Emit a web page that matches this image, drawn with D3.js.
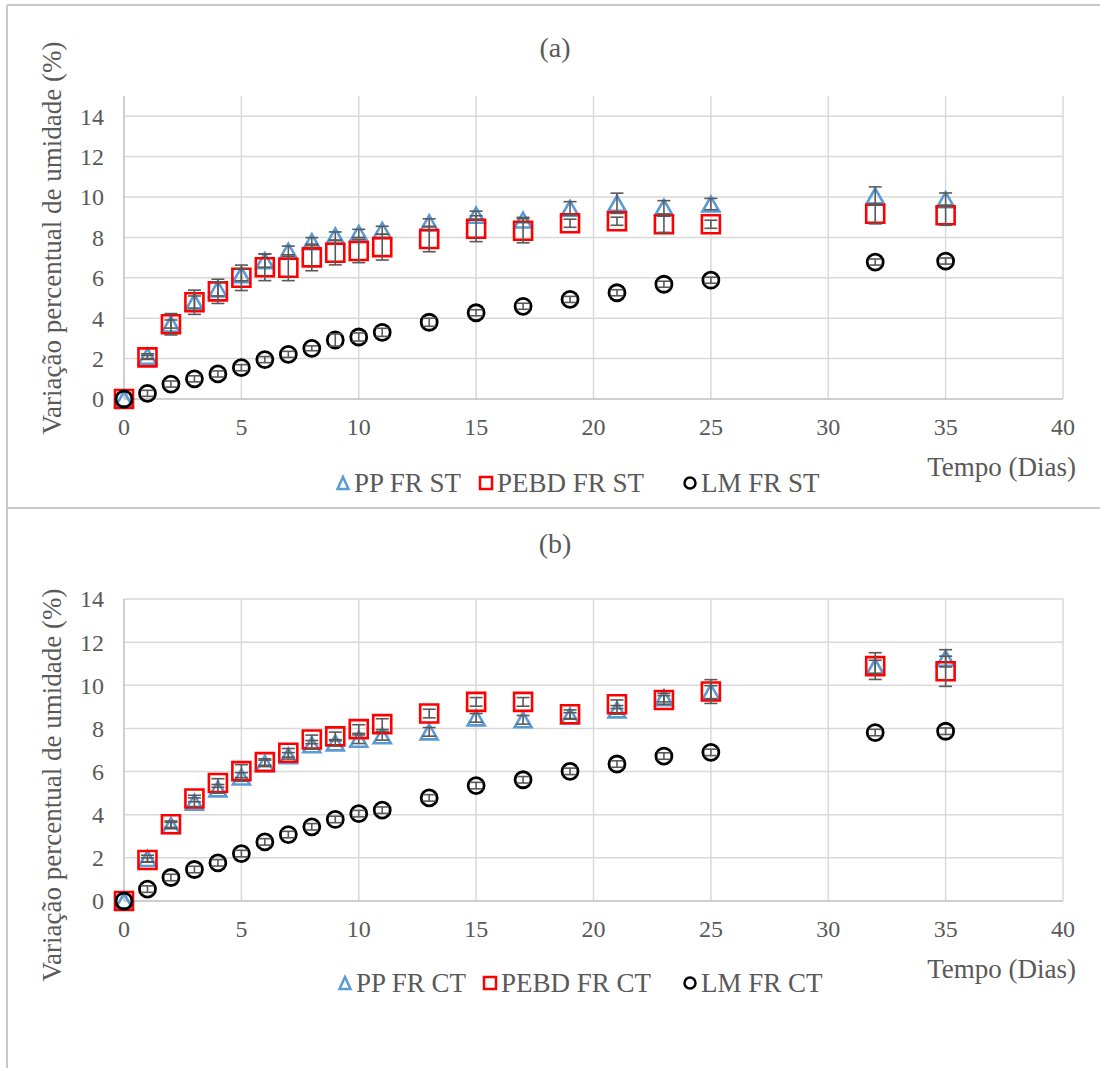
<!DOCTYPE html>
<html>
<head>
<meta charset="utf-8">
<script src="https://cdn.jsdelivr.net/npm/d3@7/dist/d3.min.js"></script>
<style>
  html, body { margin: 0; padding: 0; background: #fff; }
  svg { display: block; }
  text { font-family: "Liberation Serif", "Times New Roman", serif; fill: #595959; }
</style>
</head>
<body>
<svg id="chart" width="1100" height="1068"></svg>
<script>
// Sampling days (x values shared by all series)
const days = [0, 1, 2, 3, 4, 5, 6, 7, 8, 9, 10, 11, 13, 15, 17, 19, 21, 23, 25, 32, 35];

// Panel (a) – sem tratamento (ST)
const ppST      = [0, 2.12, 3.71, 4.80, 5.45, 6.15, 6.85, 7.32, 7.79, 8.07, 8.20, 8.35, 8.72, 9.10, 8.86, 9.44, 9.69, 9.49, 9.65, 10.05, 9.87];
const ppSTErr   = [0, 0.12, 0.20, 0.30, 0.35, 0.30, 0.33, 0.25, 0.20, 0.20, 0.20, 0.20, 0.20, 0.20, 0.13, 0.33, 0.50, 0.33, 0.28, 0.45, 0.33];
const pebdST    = [0, 2.06, 3.70, 4.79, 5.33, 6.00, 6.52, 6.50, 7.01, 7.24, 7.33, 7.52, 7.92, 8.43, 8.33, 8.70, 8.80, 8.65, 8.65, 9.17, 9.10];
const pebdSTErr = [0, 0.10, 0.53, 0.60, 0.60, 0.63, 0.66, 0.64, 0.66, 0.60, 0.58, 0.64, 0.63, 0.64, 0.60, 0.20, 0.20, 0.40, 0.20, 0.50, 0.50];
const lmST      = [0, 0.28, 0.74, 1.00, 1.24, 1.55, 1.95, 2.21, 2.51, 2.92, 3.07, 3.30, 3.80, 4.27, 4.59, 4.93, 5.26, 5.68, 5.88, 6.78, 6.83];
const lmSTErr   = [0, 0.15, 0.15, 0.15, 0.15, 0.15, 0.15, 0.15, 0.12, 0.30, 0.20, 0.20, 0.20, 0.15, 0.15, 0.15, 0.15, 0.15, 0.15, 0.15, 0.15];

// Panel (b) – com tratamento (CT)
const ppCT      = [0, 1.97, 3.50, 4.58, 5.20, 5.75, 6.38, 6.73, 7.24, 7.33, 7.50, 7.66, 7.84, 8.49, 8.40, 8.58, 8.86, 9.43, 9.68, 10.86, 11.25];
const ppCTErr   = [0, 0.15, 0.15, 0.20, 0.20, 0.20, 0.15, 0.15, 0.20, 0.15, 0.20, 0.20, 0.20, 0.20, 0.20, 0.15, 0.20, 0.20, 0.30, 0.30, 0.40];
const pebdCT    = [0, 1.90, 3.56, 4.75, 5.47, 6.02, 6.44, 6.87, 7.49, 7.63, 7.97, 8.20, 8.69, 9.23, 9.23, 8.66, 9.12, 9.32, 9.71, 10.89, 10.65];
const pebdCTErr = [0, 0.10, 0.15, 0.15, 0.20, 0.30, 0.15, 0.20, 0.20, 0.20, 0.20, 0.25, 0.20, 0.20, 0.20, 0.20, 0.20, 0.20, 0.55, 0.62, 0.70];
const lmCT      = [0, 0.55, 1.09, 1.46, 1.77, 2.20, 2.74, 3.08, 3.44, 3.78, 4.05, 4.21, 4.78, 5.35, 5.62, 6.01, 6.35, 6.72, 6.89, 7.81, 7.87];
const lmCTErr   = [0, 0.15, 0.15, 0.15, 0.15, 0.15, 0.15, 0.15, 0.15, 0.15, 0.15, 0.15, 0.15, 0.15, 0.15, 0.15, 0.15, 0.15, 0.15, 0.15, 0.15];

// Axis ticks and labels
const xTicks = [0, 5, 10, 15, 20, 25, 30, 35, 40];
const yTicks = [0, 2, 4, 6, 8, 10, 12, 14];
const yTitle = "Variação percentual de umidade (%)";
const xTitle = "Tempo (Dias)";
const seriesNamesST = ["PP FR ST", "PEBD FR ST", "LM FR ST"];
const seriesNamesCT = ["PP FR CT", "PEBD FR CT", "LM FR CT"];

const svg = d3.select("#chart");
const GRID = "#d9d9d9", AXIS = "#bfbfbf", FRAME = "#c8c8c8", ERR = "#595959";
const BLUE = "#5b9bd5", RED = "#ff0000", BLACK = "#000000";

// Outer frames of the two chart objects
svg.append("line").attr("x1", 7).attr("x2", 1100).attr("y1", 5).attr("y2", 5).attr("stroke", FRAME).attr("stroke-width", 2);
svg.append("line").attr("x1", 7).attr("x2", 7).attr("y1", 5).attr("y2", 1068).attr("stroke", FRAME).attr("stroke-width", 2);
svg.append("line").attr("x1", 7).attr("x2", 1100).attr("y1", 508).attr("y2", 508).attr("stroke", FRAME).attr("stroke-width", 2);

// Marker paths centred on (0,0)
function triPath(w, h) { return `M0,${-h/2}L${w/2},${h/2}L${-w/2},${h/2}Z`; }
function sqPath(s) { return `M${-s/2},${-s/2}h${s}v${s}h${-s}Z`; }
function circPath(r) { return `M${r},0A${r},${r} 0 1,1 ${-r},0A${r},${r} 0 1,1 ${r},0Z`; }

function drawPanel(cfg) {
  const g = svg.append("g");
  const x = d3.scaleLinear().domain([0, 40]).range([124, 1063]);
  const y = d3.scaleLinear().domain([0, cfg.yMax]).range([cfg.y0, cfg.yTop]);

  // horizontal gridlines
  g.append("g").selectAll("line").data(yTicks.filter(d => d > 0)).join("line")
    .attr("x1", x(0)).attr("x2", x(40)).attr("y1", d => y(d)).attr("y2", d => y(d))
    .attr("stroke", GRID).attr("stroke-width", 1.5);
  // vertical gridlines
  g.append("g").selectAll("line").data(xTicks.filter(d => d > 0)).join("line")
    .attr("x1", d => x(d)).attr("x2", d => x(d)).attr("y1", y(0)).attr("y2", y(cfg.yMax))
    .attr("stroke", GRID).attr("stroke-width", 1.5);
  // axis lines
  g.append("line").attr("x1", x(0)).attr("x2", x(40)).attr("y1", y(0)).attr("y2", y(0)).attr("stroke", AXIS).attr("stroke-width", 1.5);
  g.append("line").attr("x1", x(0)).attr("x2", x(0)).attr("y1", y(0)).attr("y2", y(cfg.yMax)).attr("stroke", AXIS).attr("stroke-width", 1.5);

  // tick labels
  g.append("g").selectAll("text").data(yTicks).join("text")
    .attr("x", 104).attr("y", d => y(d)).attr("dy", "0.35em")
    .attr("text-anchor", "end").attr("font-size", 24).text(d => d);
  g.append("g").selectAll("text").data(xTicks).join("text")
    .attr("x", d => x(d)).attr("y", y(0) + 28).attr("dy", "0.35em")
    .attr("text-anchor", "middle").attr("font-size", 24).text(d => d);

  // titles
  g.append("text").attr("x", 555).attr("y", cfg.titleY).attr("dy", "0.35em")
    .attr("text-anchor", "middle").attr("font-size", 28).text(cfg.title);
  g.append("text").attr("transform", `translate(52,${cfg.yTitleY}) rotate(-90)`)
    .attr("text-anchor", "middle").attr("dy", "0.35em").attr("font-size", 27).text(yTitle);
  g.append("text").attr("x", 1076).attr("y", y(0) + 68).attr("dy", "0.35em")
    .attr("text-anchor", "end").attr("font-size", 27).text(xTitle);

  const series = cfg.series;
  // markers (no fill)
  series.forEach(s => {
    g.append("g").selectAll("path").data(days.map((d, i) => [d, s.values[i]])).join("path")
      .attr("transform", d => `translate(${x(d[0])},${y(d[1])})`)
      .attr("d", s.shape).attr("fill", "none").attr("stroke", s.color).attr("stroke-width", s.sw);
  });
  // error bars on top
  series.forEach(s => {
    const eg = g.append("g").attr("stroke", ERR).attr("stroke-width", 1.6);
    days.forEach((d, i) => {
      const e = s.err[i];
      if (!e) return;
      const cx = x(d), hi = y(s.values[i] + e), lo = y(s.values[i] - e);
      eg.append("line").attr("x1", cx).attr("x2", cx).attr("y1", hi).attr("y2", lo);
      eg.append("line").attr("x1", cx - 6.5).attr("x2", cx + 6.5).attr("y1", hi).attr("y2", hi);
      eg.append("line").attr("x1", cx - 6.5).attr("x2", cx + 6.5).attr("y1", lo).attr("y2", lo);
    });
  });

  // legend
  const lg = g.append("g");
  cfg.legend.forEach((item, i) => {
    const s = series[i];
    lg.append("path").attr("transform", `translate(${item.mx},${cfg.legendY})`)
      .attr("d", s.legendShape).attr("fill", "none").attr("stroke", s.color).attr("stroke-width", 2.5);
    lg.append("text").attr("x", item.mx + 11).attr("y", cfg.legendY).attr("dy", "0.35em")
      .attr("font-size", 27).text(item.name);
  });
}

const shapes = {
  tri: triPath(17, 15), sq: sqPath(18), circ: circPath(8),
  triL: triPath(11, 12), sqL: sqPath(12), circL: circPath(5.5)
};

drawPanel({
  title: "(a)", titleY: 47, yMax: 15, y0: 399, yTop: 96, yTitleY: 238,
  legendY: 483,
  series: [
    { values: ppST, err: ppSTErr, shape: shapes.tri, legendShape: shapes.triL, color: BLUE, sw: 2.6 },
    { values: pebdST, err: pebdSTErr, shape: shapes.sq, legendShape: shapes.sqL, color: RED, sw: 2.6 },
    { values: lmST, err: lmSTErr, shape: shapes.circ, legendShape: shapes.circL, color: BLACK, sw: 2.8 }
  ],
  legend: [
    { name: seriesNamesST[0], mx: 343 },
    { name: seriesNamesST[1], mx: 486 },
    { name: seriesNamesST[2], mx: 690 }
  ]
});

drawPanel({
  title: "(b)", titleY: 543, yMax: 14, y0: 901, yTop: 599, yTitleY: 785,
  legendY: 983,
  series: [
    { values: ppCT, err: ppCTErr, shape: shapes.tri, legendShape: shapes.triL, color: BLUE, sw: 2.6 },
    { values: pebdCT, err: pebdCTErr, shape: shapes.sq, legendShape: shapes.sqL, color: RED, sw: 2.6 },
    { values: lmCT, err: lmCTErr, shape: shapes.circ, legendShape: shapes.circL, color: BLACK, sw: 2.8 }
  ],
  legend: [
    { name: seriesNamesCT[0], mx: 345 },
    { name: seriesNamesCT[1], mx: 490 },
    { name: seriesNamesCT[2], mx: 690 }
  ]
});
</script>
</body>
</html>
